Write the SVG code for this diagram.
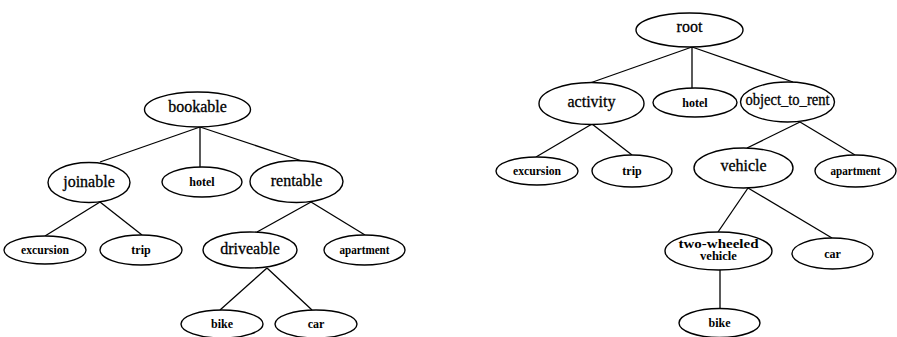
<svg xmlns="http://www.w3.org/2000/svg" width="897" height="337" viewBox="0 0 897 337">
  <style>
    .bg { fill: #ffffff; }
    .node ellipse { fill: #ffffff; stroke: #000000; stroke-width: 1.4; }
    .edges line { stroke: #000000; stroke-width: 1.3; }
    text { font-family: "Liberation Serif", "Times New Roman", serif; fill: #000000; text-anchor: middle; }
    .big { font-size: 16px; stroke: #000000; stroke-width: 0.3; }
    .small { font-size: 12px; font-weight: bold; }
    .mid { font-size: 12.5px; font-weight: bold; }
  </style>
  <rect class="bg" x="0" y="0" width="897" height="337"/>

  <!-- connectors -->
  <g id="connectors" class="edges">
    <!-- bookable hierarchy -->
    <line x1="200" y1="127" x2="100" y2="162"/>
    <line x1="200" y1="127" x2="200" y2="167"/>
    <line x1="200" y1="127" x2="302" y2="161"/>
    <line x1="100" y1="202" x2="45" y2="236"/>
    <line x1="100" y1="202" x2="142" y2="235"/>
    <line x1="311" y1="202" x2="257" y2="232"/>
    <line x1="311" y1="202" x2="365" y2="235"/>
    <line x1="267" y1="268" x2="220" y2="310"/>
    <line x1="267" y1="268" x2="312" y2="310"/>
    <!-- root hierarchy -->
    <line x1="692" y1="47" x2="590" y2="83"/>
    <line x1="692" y1="47" x2="692" y2="88"/>
    <line x1="692" y1="47" x2="793" y2="82"/>
    <line x1="592" y1="124" x2="536" y2="157"/>
    <line x1="592" y1="124" x2="632" y2="155"/>
    <line x1="800" y1="122" x2="747" y2="148"/>
    <line x1="800" y1="122" x2="855" y2="155"/>
    <line x1="748" y1="188" x2="718" y2="232"/>
    <line x1="748" y1="188" x2="832" y2="238"/>
    <line x1="720" y1="270" x2="720" y2="308"/>
  </g>

  <!-- left tree -->
  <g id="bookable" class="node"><ellipse cx="197.5" cy="109.5" rx="53" ry="17.5"/><text class="big" x="197.5" y="112">bookable</text></g>
  <g id="joinable" class="node"><ellipse cx="89" cy="182.5" rx="41" ry="20"/><text class="big" x="89" y="187">joinable</text></g>
  <g id="hotel-1" class="node"><ellipse cx="202" cy="182" rx="40" ry="15"/><text class="small" x="202" y="186">hotel</text></g>
  <g id="rentable" class="node"><ellipse cx="296.5" cy="181.5" rx="46.5" ry="21"/><text class="big" x="296.5" y="186">rentable</text></g>
  <g id="excursion-1" class="node"><ellipse cx="45" cy="250" rx="41" ry="14"/><text class="small" x="45" y="254" textLength="48" lengthAdjust="spacingAndGlyphs">excursion</text></g>
  <g id="trip-1" class="node"><ellipse cx="141" cy="250" rx="41" ry="15"/><text class="small" x="141" y="254">trip</text></g>
  <g id="driveable" class="node"><ellipse cx="250" cy="250" rx="47" ry="18"/><text class="big" x="250" y="254">driveable</text></g>
  <g id="apartment-1" class="node"><ellipse cx="364.5" cy="250" rx="40.5" ry="15"/><text class="small" x="364.5" y="254" textLength="50" lengthAdjust="spacingAndGlyphs">apartment</text></g>
  <g id="bike-1" class="node"><ellipse cx="222" cy="324" rx="41" ry="14"/><text class="small" x="222" y="328">bike</text></g>
  <g id="car-1" class="node"><ellipse cx="316" cy="324" rx="41" ry="14"/><text class="small" x="316" y="328">car</text></g>

  <!-- right tree -->
  <g id="root" class="node"><ellipse cx="689.5" cy="30" rx="53.5" ry="17"/><text class="big" x="689.5" y="32">root</text></g>
  <g id="activity" class="node"><ellipse cx="591.5" cy="103.5" rx="52.5" ry="21"/><text class="big" x="591.5" y="107">activity</text></g>
  <g id="hotel-2" class="node"><ellipse cx="695" cy="102.5" rx="42" ry="14.5"/><text class="small" x="695" y="107">hotel</text></g>
  <g id="object_to_rent" class="node"><ellipse cx="787.5" cy="102" rx="47" ry="20"/><text class="big" x="787.5" y="105" textLength="84" lengthAdjust="spacingAndGlyphs">object_to_rent</text></g>
  <g id="excursion-2" class="node"><ellipse cx="537" cy="171" rx="41" ry="14"/><text class="small" x="537" y="175" textLength="48" lengthAdjust="spacingAndGlyphs">excursion</text></g>
  <g id="trip-2" class="node"><ellipse cx="632" cy="171" rx="40" ry="16"/><text class="small" x="632" y="175">trip</text></g>
  <g id="vehicle" class="node"><ellipse cx="743.5" cy="168" rx="49.5" ry="20"/><text class="big" x="743.5" y="171">vehicle</text></g>
  <g id="apartment-2" class="node"><ellipse cx="855.5" cy="171" rx="40.5" ry="16"/><text class="small" x="855.5" y="175" textLength="50" lengthAdjust="spacingAndGlyphs">apartment</text></g>
  <g id="two-wheeled-vehicle" class="node"><ellipse cx="718.5" cy="251" rx="53.5" ry="19"/><text class="mid" x="718.5" y="247.5" textLength="80" lengthAdjust="spacingAndGlyphs">two-wheeled</text><text class="mid" x="718.5" y="260">vehicle</text></g>
  <g id="car-2" class="node"><ellipse cx="832.5" cy="253.5" rx="40.5" ry="15.5"/><text class="small" x="832.5" y="258">car</text></g>
  <g id="bike-2" class="node"><ellipse cx="719.5" cy="323" rx="40.5" ry="14.5"/><text class="small" x="719.5" y="327">bike</text></g>
</svg>
